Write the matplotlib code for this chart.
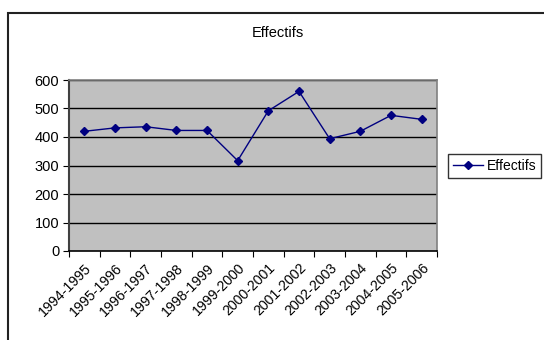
import matplotlib
matplotlib.use("Agg")
import matplotlib.pyplot as plt
import matplotlib.transforms as mtransforms
from matplotlib.patches import Rectangle

plt.rcParams['font.family'] = ['Liberation Sans', 'DejaVu Sans']

years = ["1994-1995", "1995-1996", "1996-1997", "1997-1998", "1998-1999",
         "1999-2000", "2000-2001", "2001-2002", "2002-2003", "2003-2004",
         "2004-2005", "2005-2006"]
effectifs = [420, 432, 436, 423, 423, 317, 492, 560, 394, 420, 476, 462]
y_ticks = [0, 100, 200, 300, 400, 500, 600]

fig = plt.figure(figsize=(5.44, 3.4), dpi=100)
fig.patch.set_facecolor("white")

# outer chart frame (runs off the bottom/right edges)
fig.add_artist(Rectangle((8 / 544, -0.1), 1.2, 1 - 13 / 340 + 0.1,
                         transform=fig.transFigure, fill=False,
                         edgecolor="#222222", linewidth=1.5))

ax = fig.add_axes([69 / 544, 1 - 251 / 340, 368 / 544, 171 / 340])
ax.set_facecolor("#c0c0c0")

x = list(range(len(years)))
line, = ax.plot(x, effectifs, color="#000080", linewidth=1,
                marker="D", markersize=4.5, label="Effectifs")

ax.set_xlim(-0.5, len(years) - 0.5)
ax.set_ylim(0, 600)
ax.set_yticks(y_ticks)
ax.set_yticklabels([str(v) for v in y_ticks], fontsize=10.5)
for v in y_ticks[1:]:
    ax.axhline(v, color="black", linewidth=1, zorder=1)

ax.set_xticks([i - 0.5 for i in range(len(years) + 1)], minor=False)
ax.set_xticklabels([])
ax.set_xticks(x, minor=True)
labels = ax.set_xticklabels(years, minor=True, rotation=45, ha="right",
                            rotation_mode="anchor", fontsize=10.2)
shift = mtransforms.ScaledTranslation(-0.06, 0, fig.dpi_scale_trans)
for lab in labels:
    lab.set_transform(lab.get_transform() + shift)
ax.tick_params(axis="x", which="minor", length=0, pad=7)
ax.tick_params(axis="x", which="major", length=4, direction="out")
ax.tick_params(axis="y", length=4, direction="out", pad=3)

ax.spines["left"].set_color("#404040")
ax.spines["left"].set_linewidth(1.5)
ax.spines["bottom"].set_color("black")
ax.spines["bottom"].set_linewidth(1.2)
ax.spines["top"].set_color("#808080")
ax.spines["top"].set_linewidth(1.2)
ax.spines["right"].set_color("#808080")
ax.spines["right"].set_linewidth(1.2)

fig.text(278 / 544, 1 - 33 / 340, "Effectifs", ha="center", va="center",
         fontsize=10.5)

leg = fig.legend(handles=[line], loc="center left",
                 bbox_to_anchor=(448 / 544, 1 - 166 / 340), fontsize=10,
                 frameon=True, fancybox=False, borderpad=0.35,
                 handlelength=2.2, handletextpad=0.25, borderaxespad=0)
leg.get_frame().set_edgecolor("black")
leg.get_frame().set_linewidth(1)

fig.savefig("out.png", dpi=100)
